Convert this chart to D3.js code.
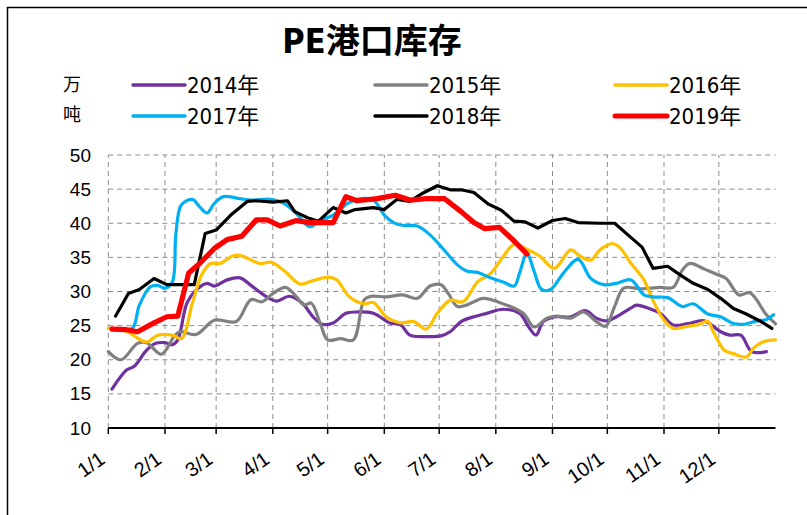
<!DOCTYPE html>
<html><head><meta charset="utf-8">
<script src="https://cdn.jsdelivr.net/npm/d3@7"></script>
<style>
body{margin:0;background:#fff;}
svg{display:block;}
</style></head>
<body>
<svg id="chart" width="807" height="515"></svg>
<script>
// ---- data (day of year, value in 万吨) ----
const monthStarts = [0,31,59,90,120,151,181,212,243,273,304,334];
const monthLabels = ["1/1","2/1","3/1","4/1","5/1","6/1","7/1","8/1","9/1","10/1","11/1","12/1"];
const yTicks = [10,15,20,25,30,35,40,45,50];

const days2014 = [2,10,14,21,26,31,35,38,43,48,54,58,65,72,78,85,92,99,106,112,117,123,130,136,145,154,160,165,174,182,187,193,200,207,216,225,230,234,238,245,253,261,267,273,278,286,289,296,302,309,317,326,335,340,346,352,360];
const vals2014 = [15.7,18.5,19.0,21.4,22.4,22.5,22.2,22.9,28.3,30.2,31.2,30.8,31.7,32.0,30.9,29.5,28.6,29.3,28.3,26.3,25.2,25.4,26.8,27.0,26.8,25.4,25.1,23.6,23.4,23.5,24.1,25.6,26.3,26.8,27.4,26.8,24.8,23.6,25.6,26.3,26.3,27.2,26.1,25.7,26.3,27.6,28.0,27.5,26.8,25.1,25.3,25.7,24.1,23.6,23.6,21.2,21.2];

const days2015 = [0,7,16,21,29,36,39,48,58,70,78,84,90,97,103,107,111,116,120,127,134,140,144,152,161,169,176,182,186,191,196,205,214,227,233,240,245,253,260,267,272,277,282,291,302,309,314,318,326,333,338,345,351,360,365];
const vals2015 = [21.2,20.0,22.4,22.5,20.8,23.4,24.1,23.7,25.8,25.6,28.8,28.5,29.7,30.6,29.2,28.0,28.3,25.3,22.9,23.1,22.9,28.8,29.3,29.2,29.5,29.0,30.8,31.0,29.7,27.8,28.0,29.0,28.4,26.8,24.8,26.1,26.4,26.1,27.0,25.6,24.9,27.8,30.5,30.4,30.6,30.6,33.1,34.1,33.3,32.5,31.9,29.5,29.8,26.6,25.3];

const days2016 = [0,9,21,27,35,40,46,51,56,61,68,72,83,89,96,105,112,121,125,132,140,145,152,160,167,174,180,187,194,202,209,216,222,229,236,244,253,258,264,269,276,280,286,293,298,304,309,317,322,328,331,337,342,349,353,358,365];
const vals2016 = [24.6,24.3,22.6,23.6,23.6,23.1,28.3,32.4,34.1,34.1,35.2,35.3,34.1,34.3,33.1,31.1,31.6,32.1,31.7,29.2,28.2,28.4,26.3,25.4,25.6,24.5,26.8,28.7,28.5,31.4,32.6,35.1,36.9,36.2,35.2,33.4,36.1,35.2,34.6,36.1,37.0,36.4,34.1,31.7,28.7,25.8,24.6,24.9,25.1,25.6,24.1,21.4,20.9,20.4,21.7,22.6,22.9];

const days2017 = [2,13,17,23,27,31,35,37,40,46,50,54,58,63,72,78,89,96,103,110,116,123,131,136,145,151,156,161,169,176,183,191,196,202,209,216,222,225,229,233,237,242,249,257,264,271,278,286,293,298,306,314,320,328,335,342,348,355,360,364];
const vals2017 = [24.5,24.6,28.0,30.7,30.9,30.5,31.4,38.5,42.7,43.5,42.4,41.5,42.9,43.9,43.6,43.4,43.5,42.9,41.4,39.5,40.4,41.2,42.9,43.5,43.4,41.2,40.1,39.7,39.6,38.3,36.3,33.9,33.0,32.8,32.0,31.4,30.8,32.7,35.6,32.9,30.3,30.3,32.7,34.7,31.9,31.0,31.2,31.7,29.5,29.2,29.1,27.8,28.2,26.7,26.3,25.3,25.2,25.7,25.9,26.6];

const days2018 = [4,11,17,25,32,47,53,59,67,76,81,90,98,102,109,115,123,130,135,145,151,158,165,172,180,187,193,200,208,215,222,228,235,243,250,257,269,277,286,292,298,306,313,320,328,335,342,349,357,363];
const vals2018 = [26.4,29.7,30.3,31.9,31.0,31.0,38.5,39.0,41.2,43.2,43.3,43.1,43.3,41.7,40.8,40.3,42.3,41.5,42.0,42.3,42.0,43.5,43.2,44.4,45.5,44.9,44.9,44.5,42.8,41.9,40.3,40.2,39.3,40.4,40.7,40.1,40.0,40.0,37.9,36.5,33.4,33.7,32.4,31.2,30.3,29.0,27.5,26.7,25.6,24.6];

const days2019 = [2,10,16,25,32,38,44,50,58,65,73,81,87,94,103,110,123,130,136,147,157,165,174,184,193,200,206,214,222,229];
const vals2019 = [24.5,24.4,24.1,25.4,26.3,26.4,32.7,34.1,36.3,37.6,38.1,40.5,40.5,39.6,40.4,40.1,40.1,43.9,43.3,43.6,44.1,43.4,43.6,43.6,41.7,40.1,39.2,39.4,37.4,35.5];

const seriesNames = ["2014年","2015年","2016年","2017年","2018年","2019年"];
const seriesColors = ["#7030A0","#808080","#FFC000","#00B0F0","#000000","#FF0000"];
const seriesDays = [days2014,days2015,days2016,days2017,days2018,days2019];
const seriesVals = [vals2014,vals2015,vals2016,vals2017,vals2018,vals2019];
const seriesSmooth = [true,true,true,true,false,false];
const seriesWidth = [3.2,3.2,3.2,3.2,3.2,5.2];

// ---- drawing ----
const svg = d3.select("#chart");
const latin = "'Liberation Sans Narrow','DejaVu Sans Condensed','Noto Sans CJK SC',sans-serif";

// frame
svg.append("path").attr("d","M7.5,515 L7.5,7.5 L807,7.5").attr("fill","none").attr("stroke","#000").attr("stroke-width",1.5);

// title
svg.append("text").attr("x",372).attr("y",53).attr("text-anchor","middle")
  .attr("font-family",latin).attr("font-weight","bold").attr("font-size",34).text("PE港口库存");

// unit label
svg.append("text").attr("x",72).attr("y",91).attr("text-anchor","middle").attr("font-family","'Noto Sans CJK SC'").attr("font-size",18).text("万");
svg.append("text").attr("x",72).attr("y",121).attr("text-anchor","middle").attr("font-family","'Noto Sans CJK SC'").attr("font-size",18).text("吨");

// legend
const legX = [133,375,615], legY = [85,116];
seriesNames.forEach((n,i)=>{
  const gx = legX[i%3], gy = legY[Math.floor(i/3)];
  svg.append("line").attr("x1",gx).attr("x2",gx+52).attr("y1",gy).attr("y2",gy)
    .attr("stroke",seriesColors[i]).attr("stroke-width",i===5?5:3.5).attr("stroke-linecap","round");
  svg.append("text").attr("x",gx+54).attr("y",gy+8).attr("font-family",latin).attr("font-size",22).text(n);
});

const x = d3.scaleLinear().domain([0,365]).range([108.3,775.5]);
const y = d3.scaleLinear().domain([10,50]).range([428,155]);

// gridlines
const grid = svg.append("g");
yTicks.filter(v=>v>10).forEach(v=>{
  grid.append("line").attr("x1",x(0)).attr("x2",x(365)).attr("y1",y(v)).attr("y2",y(v))
    .attr("stroke","#8c8c8c").attr("stroke-width",1).attr("stroke-dasharray","5,4");
});
monthStarts.forEach(d=>{
  grid.append("line").attr("x1",x(d)).attr("x2",x(d)).attr("y1",y(10)).attr("y2",y(50))
    .attr("stroke","#8c8c8c").attr("stroke-width",1).attr("stroke-dasharray","5,4");
});

// y labels
yTicks.forEach(v=>{
  svg.append("text").attr("x",91).attr("y",y(v)+6.5).attr("text-anchor","end")
    .attr("font-family","'Liberation Sans',Arial,sans-serif").attr("font-size",19).text(v);
});

// lines
seriesNames.forEach((n,i)=>{
  const pts = seriesDays[i].map((d,j)=>[d,seriesVals[i][j]]);
  const line = d3.line().x(p=>x(p[0])).y(p=>y(p[1]))
    .curve(seriesSmooth[i]?d3.curveCatmullRom.alpha(0.5):d3.curveLinear);
  svg.append("path").datum(pts).attr("d",line).attr("fill","none")
    .attr("stroke",seriesColors[i]).attr("stroke-width",seriesWidth[i])
    .attr("stroke-linejoin","round").attr("stroke-linecap","round");
});

// x axis
const xAxis = svg.append("g").attr("transform",`translate(0,${y(10)})`);
xAxis.append("line").attr("x1",x(0)).attr("x2",x(365)).attr("y1",0).attr("y2",0).attr("stroke","#000").attr("stroke-width",2);
monthStarts.forEach((d,i)=>{
  xAxis.append("line").attr("x1",x(d)).attr("x2",x(d)).attr("y1",0).attr("y2",6).attr("stroke","#000").attr("stroke-width",1.5);
  xAxis.append("text").attr("transform",`translate(${x(d)-2},${34}) rotate(-35)`)
    .attr("text-anchor","end").attr("font-family","'Liberation Sans',Arial,sans-serif").attr("font-size",20)
    .text(monthLabels[i]);
});
</script>
</body></html>
